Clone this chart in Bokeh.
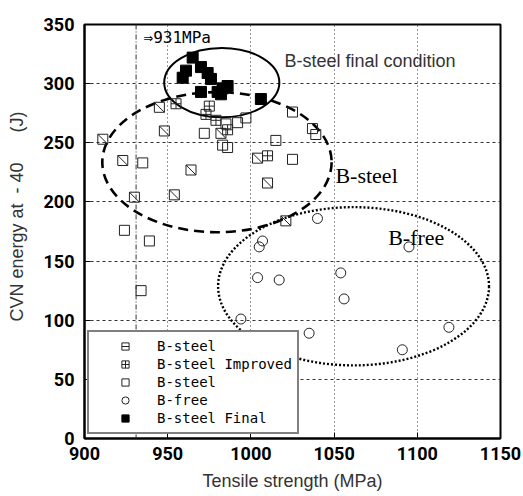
import math

from bokeh.core.properties import value
from bokeh.embed import file_html
from bokeh.models import FixedTicker, Legend, LegendItem, Span
from bokeh.plotting import figure
from bokeh.resources import INLINE

# Tensile strength (MPa) and CVN absorbed energy (J) per steel group
bsteel_diag_ts = [911, 923, 930, 945, 948, 954, 964, 982, 1004, 1010, 1021]
bsteel_diag_cvn = [253, 235, 204, 280, 260, 206, 227, 258, 237, 216, 184]

bsteel_imp_ts = [955, 975, 973, 979, 986, 1010]
bsteel_imp_cvn = [283, 281, 274, 269, 261, 239]

bsteel_sq_ts = [935, 924, 939, 934, 972, 983, 986, 985, 992, 997, 1025, 1037, 1039, 1015, 1025]
bsteel_sq_cvn = [233, 176, 167, 125, 258, 248, 246, 266, 267, 271, 276, 262, 257, 252, 236]

bfree_ts = [1040, 1007, 1005, 1004, 1017, 1054, 1056, 994, 1035, 1095, 1119, 1091]
bfree_cvn = [186, 167, 162, 136, 134, 140, 118, 101, 89, 162, 94, 75]

final_ts = [965, 961, 959, 970, 974, 976, 970, 980, 983, 986, 982, 1006]
final_cvn = [322, 311, 305, 314, 309, 304, 293, 293, 296, 298, 291, 287]

# Group outlines: centre strength, centre energy, full width (MPa), full height (J)
group_names = ["final", "bsteel", "bfree"]
group_cx = [982.5, 979.6, 1061.7]
group_cy = [300.9, 233.6, 128.7]
group_w = [69.2, 137.8, 162.8]
group_h = [58.6, 118.4, 133.8]

x_ticks = [900, 950, 1000, 1050, 1100, 1150]
y_ticks = [0, 50, 100, 150, 200, 250, 300, 350]
ref_strength = 931

NB = "\u00a0"

p = figure(
    width=523, height=496,
    x_range=(900, 1150), y_range=(0, 350),
    output_backend="svg", toolbar_location=None,
    min_border_left=84, min_border_right=23,
    min_border_top=24, min_border_bottom=58,
)
p.background_fill_color = "white"
p.border_fill_color = "white"
p.outline_line_color = "black"
p.outline_line_width = 2

for ax, ticks in ((p.xaxis, x_ticks), (p.yaxis, y_ticks)):
    ax.ticker = FixedTicker(ticks=ticks)
    ax.major_label_text_font = "Roboto"
    ax.major_label_text_font_style = "bold"
    ax.major_label_text_font_size = "18px"
    ax.major_label_text_color = "black"
    ax.axis_line_color = "black"
    ax.axis_line_width = 2
    ax.major_tick_in = 6
    ax.major_tick_out = 0
    ax.major_tick_line_color = "black"
    ax.minor_tick_line_color = None
    ax.axis_label_text_font = "Liberation Sans"
    ax.axis_label_text_font_style = "normal"
    ax.axis_label_text_font_size = "18px"
    ax.axis_label_text_color = "#333333"

p.xaxis.axis_label = "Tensile strength (MPa)"
p.yaxis.axis_label = (NB * 6 + "CVN energy at" + NB * 2 + "-" + NB + "40" + NB * 6 + "(J)")
p.xaxis.major_label_standoff = 8
p.yaxis.major_label_standoff = 10
p.xaxis.axis_label_standoff = 8
p.yaxis.axis_label_standoff = 14

p.xgrid.grid_line_color = "#333333"
p.xgrid.grid_line_dash = "1 3"
p.xgrid.grid_line_width = 1
p.ygrid.grid_line_color = "#333333"
p.ygrid.grid_line_dash = "3 3"
p.ygrid.grid_line_width = 1

p.add_layout(Span(location=ref_strength, dimension="height", line_color="#333333",
                  line_dash="5 2 1 2", line_width=1))

# group outlines
outline_styles = {
    "final": dict(line_dash="solid", line_width=2),
    "bsteel": dict(line_dash="10 6", line_width=2.6),
    "bfree": dict(line_dash="2 2", line_width=2.4),
}
for name, cx, cy, w, h in zip(group_names, group_cx, group_cy, group_w, group_h):
    p.ellipse(x=cx, y=cy, width=w, height=h, fill_color=None, line_color="black",
              **outline_styles[name])

mk = dict(fill_color=None, line_color="#222222", line_width=1)
r_diag_sq = p.scatter(bsteel_diag_ts, bsteel_diag_cvn, marker="square", size=10, **mk)
r_diag_ln = p.scatter(bsteel_diag_ts, bsteel_diag_cvn, marker="dash", size=14,
                      angle=-math.pi / 4, line_color="#222222", line_width=1)
r_imp = p.scatter(bsteel_imp_ts, bsteel_imp_cvn, marker="square_cross", size=10, **mk)
r_sq = p.scatter(bsteel_sq_ts, bsteel_sq_cvn, marker="square", size=10, **mk)
r_free = p.scatter(bfree_ts, bfree_cvn, marker="circle", size=10, **mk)
r_final = p.scatter(final_ts, final_cvn, marker="square", size=11,
                    fill_color="black", line_color="black", line_width=1)

# annotations
p.text(x=[935.5], y=[339], text=["\u21d2931MPa"], text_font=value("DejaVu Sans Mono"),
       text_font_size="16px", text_baseline="middle", text_align="left", text_color="black")
p.text(x=[1020.2], y=[319.5], text=["B-steel final condition"], text_font=value("Liberation Sans"),
       text_font_size="18px", text_baseline="middle", text_align="left", text_color="#333333")
p.text(x=[1050.8, 1082.5], y=[222.3, 170.2], text=["B-steel", "B-free"],
       text_font=value("Liberation Serif"), text_font_size="22px",
       text_baseline="middle", text_align="left", text_color="black")

legend = Legend(
    items=[
        LegendItem(label="B-steel", renderers=[r_diag_sq, r_diag_ln]),
        LegendItem(label="B-steel Improved", renderers=[r_imp]),
        LegendItem(label="B-steel", renderers=[r_sq]),
        LegendItem(label="B-free", renderers=[r_free]),
        LegendItem(label="B-steel Final", renderers=[r_final]),
    ],
    location=(3, 4),
    glyph_width=62, glyph_height=18,
    label_standoff=1, padding=5, spacing=0,
    label_height=16,
    label_text_font="DejaVu Sans Mono", label_text_font_size="14px",
    label_text_color="black",
    border_line_color="black", border_line_width=2,
    background_fill_color="white", background_fill_alpha=1,
    margin=0,
)
p.add_layout(legend)

open("out.html", "w").write(file_html(p, INLINE))
